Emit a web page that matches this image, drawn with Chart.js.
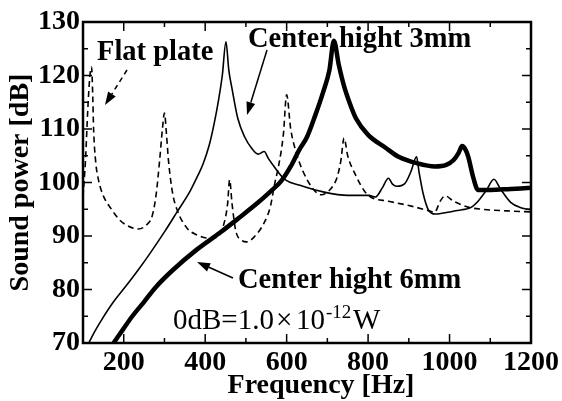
<!DOCTYPE html>
<html>
<head>
<meta charset="utf-8">
<script src="https://cdn.jsdelivr.net/npm/chart.js@4.4.0/dist/chart.umd.min.js"></script>
<style>
  html, body { margin: 0; padding: 0; background: #fff; }
</style>
</head>
<body>
<canvas id="soundChart" width="562" height="401"></canvas>
<script>
// Sound power spectra: flat plate vs. two center heights
const flatHz = [100, 106, 112, 117, 121, 124, 126, 131, 138, 150, 168, 190, 210, 236, 255, 270, 280, 288, 295, 300, 305, 310, 320, 331, 355, 380, 410, 430, 445, 455, 460, 466, 475, 490, 502, 520, 545, 560, 571, 580, 592, 600, 610, 624, 639, 665, 685, 700, 715, 724, 733, 741, 750, 770, 790, 806, 850, 900, 950, 963, 977, 989, 1010, 1045, 1080, 1140, 1200];
const flatDb = [97.3, 104, 114, 120, 121.6, 116, 110, 104, 100.5, 97.5, 95.2, 93, 91.9, 91.3, 92, 93.8, 98, 104, 110, 113, 109, 104, 98, 94.9, 91.5, 90.2, 89.6, 89.8, 92, 96, 100.5, 96, 91, 89.2, 88.9, 89.8, 92.5, 95.5, 99.9, 103, 109, 116.4, 110, 105.5, 102.3, 98.8, 97.7, 98.2, 99.5, 101, 104, 108.3, 105, 101.3, 98.5, 97.3, 96.5, 95.7, 94.7, 94.4, 96.5, 97.5, 96.5, 95.4, 95, 94.7, 94.5];

const mm3Hz = [114, 130, 148, 175, 204, 235, 265, 302, 331, 363, 380, 395, 410, 422, 433, 442, 451, 458, 466, 480, 497, 515, 530, 545, 555, 570, 594, 640, 692, 750, 802, 818, 835, 850, 860, 870, 890, 905, 919, 925, 935, 948, 965, 1000, 1030, 1052, 1070, 1090, 1109, 1125, 1150, 1175, 1200];
const mm3Db = [70, 72.3, 74.6, 77.7, 80.5, 83.6, 86.8, 91, 94.5, 98.4, 101, 103.5, 107, 111, 115.5, 120, 126.3, 121, 117.5, 112, 108.5, 106.3, 105.3, 105.8, 104.5, 102.9, 100.7, 99.3, 98.2, 97.6, 97.6, 97.3, 99, 100.8, 99.7, 99.3, 99.8, 102, 104.8, 102, 98, 94.9, 94.1, 94.5, 94.9, 95.3, 96.5, 98.5, 100.6, 98.8, 96.3, 95.3, 94.9];

const mm6Hz = [175, 198, 221, 250, 277, 320, 380, 436, 480, 529, 560, 586, 610, 631, 650, 670, 690, 705, 716, 728, 741, 755, 770, 800, 843, 875, 920, 964, 992, 1010, 1022, 1031, 1040, 1046, 1058, 1070, 1100, 1150, 1200];
const mm6Db = [70, 72.5, 75, 77.7, 80.3, 83.6, 87.5, 90.6, 93.2, 96.2, 98.3, 100.2, 103, 106.1, 108.5, 112.5, 117, 121, 126.5, 122, 118, 114.8, 112, 108.9, 106.5, 104.8, 103.6, 103, 103.3, 104.2, 105.5, 106.8, 106, 104.8, 101, 98.6, 98.6, 98.8, 99];

const xTicks = [200, 400, 600, 800, 1000, 1200];
const yTicks = [70, 80, 90, 100, 110, 120, 130];

const SERIF = "'Liberation Serif', 'Times New Roman', serif";

const toPoints = (xs, ys) => xs.map((v, i) => ({ x: v, y: ys[i] }));

function arrow(ctx, x1, y1, x2, y2, dashed) {
    const ang = Math.atan2(y2 - y1, x2 - x1);
    const head = 13, half = 4.5;
    const bx = x2 - head * Math.cos(ang), by = y2 - head * Math.sin(ang);
    ctx.save();
    ctx.lineWidth = 1.5;
    if (dashed) ctx.setLineDash([5, 4]);
    ctx.beginPath(); ctx.moveTo(x1, y1); ctx.lineTo(bx, by); ctx.stroke();
    ctx.setLineDash([]);
    ctx.beginPath();
    ctx.moveTo(x2, y2);
    ctx.lineTo(bx + half * Math.sin(ang), by - half * Math.cos(ang));
    ctx.lineTo(bx - half * Math.sin(ang), by + half * Math.cos(ang));
    ctx.closePath(); ctx.fill();
    ctx.restore();
}

// frame, inward ticks on all four sides, annotations
const decorPlugin = {
    id: 'decor',
    afterDatasetsDraw(chart) {
        const { ctx, chartArea: a, scales: { x, y } } = chart;
        ctx.save();
        ctx.strokeStyle = '#000';
        ctx.fillStyle = '#000';
        ctx.lineWidth = 1.5;
        const seg = (x1, y1, x2, y2) => { ctx.beginPath(); ctx.moveTo(x1, y1); ctx.lineTo(x2, y2); ctx.stroke(); };

        for (let v = 100; v <= 1200; v += 100) {
            const px = x.getPixelForValue(v);
            const len = v % 200 === 0 ? 9 : 5;
            seg(px, a.bottom, px, a.bottom - len);
            seg(px, a.top, px, a.top + len);
        }
        for (let v = 70; v <= 130; v += 5) {
            const py = y.getPixelForValue(v);
            const len = v % 10 === 0 ? 9 : 5;
            seg(a.left, py, a.left + len, py);
            seg(a.right, py, a.right - len, py);
        }
        ctx.lineWidth = 2.5;
        ctx.strokeRect(a.left, a.top, a.right - a.left, a.bottom - a.top);

        // x axis title (sits a little right of centre in the original)
        ctx.textBaseline = 'alphabetic';
        ctx.textAlign = 'center';
        ctx.font = 'bold 28px ' + SERIF;
        ctx.fillText('Frequency [Hz]', 321, 393);

        // labels
        ctx.textAlign = 'left';
        ctx.font = 'bold 28.5px ' + SERIF;
        ctx.fillText('Flat plate', 97, 60);
        ctx.fillText('Center hight 3mm', 248, 47);
        ctx.fillText('Center hight 6mm', 238, 288);

        ctx.font = '29px ' + SERIF;
        ctx.fillText('0dB=1.0', 173, 329);
        ctx.fillText('\u00d7', 276, 329);
        ctx.fillText('10', 296, 329);
        ctx.font = '19px ' + SERIF;
        ctx.fillText('-12', 326, 318);
        ctx.font = '29px ' + SERIF;
        ctx.fillText('W', 353, 329);

        arrow(ctx, 127, 70, 105, 105, true);
        arrow(ctx, 267, 50, 247, 115, false);
        arrow(ctx, 233, 278, 197, 262, false);
        ctx.restore();
    }
};

new Chart(document.getElementById('soundChart'), {
    type: 'line',
    data: {
        datasets: [
            {
                label: 'Flat plate',
                data: toPoints(flatHz, flatDb),
                borderColor: '#000',
                borderWidth: 1.6,
                borderDash: [6, 4],
                pointRadius: 0,
                cubicInterpolationMode: 'monotone'
            },
            {
                label: 'Center hight 3mm',
                data: toPoints(mm3Hz, mm3Db),
                borderColor: '#000',
                borderWidth: 1.6,
                pointRadius: 0,
                cubicInterpolationMode: 'monotone'
            },
            {
                label: 'Center hight 6mm',
                data: toPoints(mm6Hz, mm6Db),
                borderColor: '#000',
                borderWidth: 4.5,
                pointRadius: 0,
                cubicInterpolationMode: 'monotone'
            }
        ]
    },
    options: {
        responsive: false,
        animation: false,
        events: [],
        layout: { padding: { top: 22, right: 29, left: 0, bottom: 0 } },
        plugins: { legend: { display: false }, tooltip: { enabled: false } },
        scales: {
            x: {
                type: 'linear',
                min: 100,
                max: 1200,
                afterBuildTicks: (s) => { s.ticks = xTicks.map(v => ({ value: v })); },
                afterFit: (s) => { s.height = 58; },
                grid: { display: false, drawTicks: false },
                border: { display: false },
                ticks: { color: '#000', padding: 3, maxRotation: 0, callback: (v) => String(v), font: { family: SERIF, size: 28, weight: 'bold' } }
            },
            y: {
                min: 70,
                max: 130,
                afterBuildTicks: (s) => { s.ticks = yTicks.map(v => ({ value: v })); },
                afterFit: (s) => { s.width = 83; },
                grid: { display: false, drawTicks: false },
                border: { display: false },
                ticks: { color: '#000', padding: 3, callback: (v) => String(v), font: { family: SERIF, size: 28, weight: 'bold' } },
                title: { display: true, text: 'Sound power [dB]', color: '#000', padding: 4, font: { family: SERIF, size: 28, weight: 'bold' } }
            }
        }
    },
    plugins: [decorPlugin]
});
</script>
</body>
</html>
